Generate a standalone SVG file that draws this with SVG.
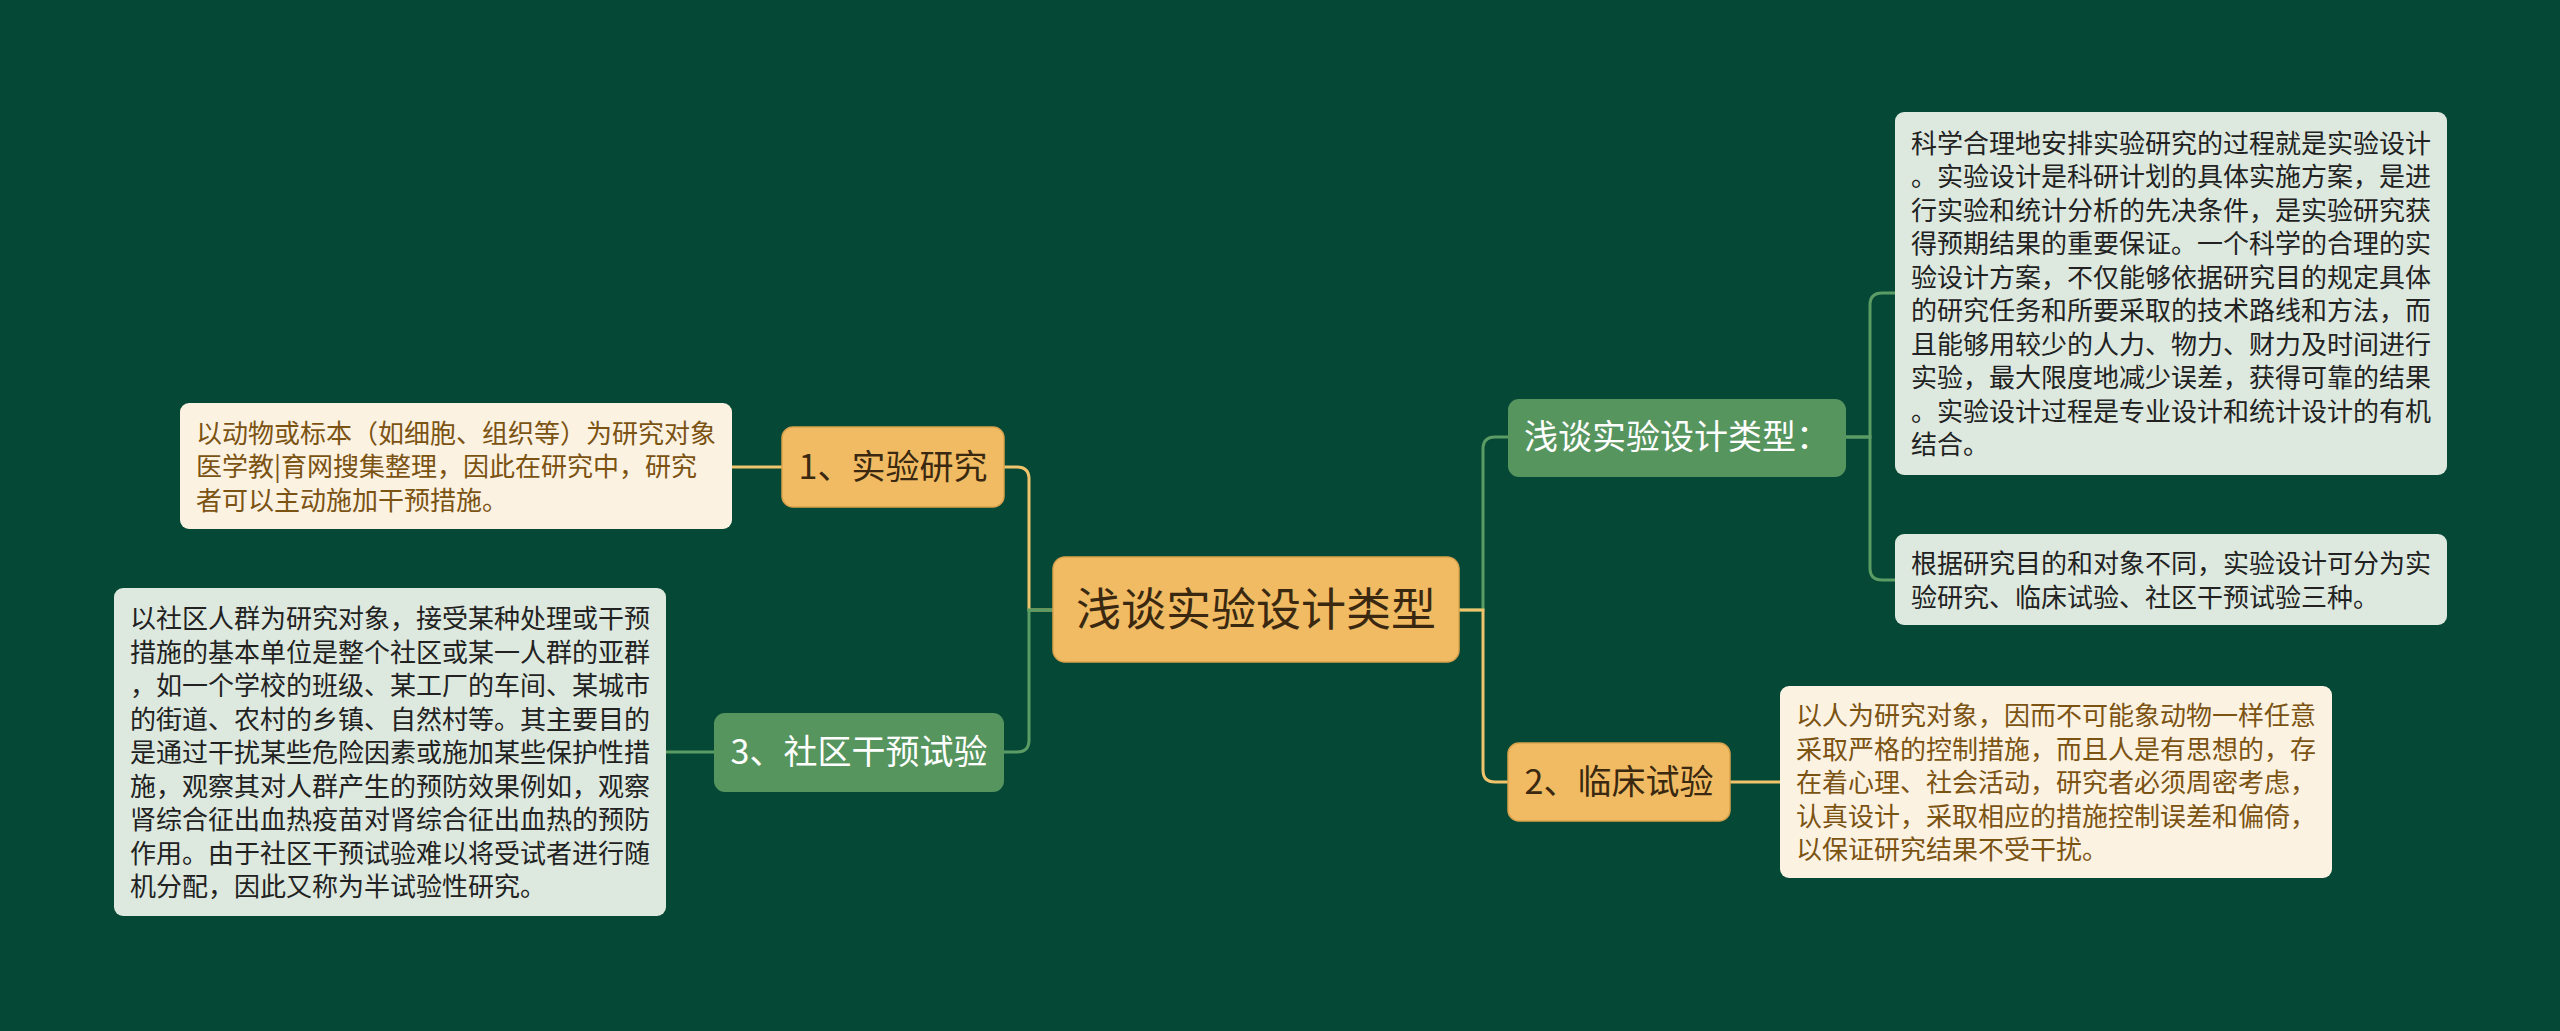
<svg xmlns="http://www.w3.org/2000/svg" width="2560" height="1031" viewBox="0 0 2560 1031">
<style>
text{font-family:"Noto Sans CJK SC","Noto Sans",sans-serif;}
.gold{fill:#f0bb63;stroke:#d9a24c;stroke-width:1.5;}
.gnode{fill:#57955f;}
.gbox{fill:#dde9df;}
.cbox{fill:#fcf2e2;}
.lg{fill:none;stroke:#f0c46c;stroke-width:3;}
.lgr{fill:none;stroke:#5b9c64;stroke-width:3;}
.t-root{font-size:45px;fill:#3a2910;text-anchor:middle;}
.t-gold{font-size:34px;fill:#3a2910;text-anchor:middle;}
.t-green{font-size:34px;fill:#ffffff;text-anchor:middle;}
.t-gb{font-size:26px;fill:#222222;}
.t-cb{font-size:26px;fill:#7b5312;}
</style>
<rect width="2560" height="1031" fill="#064836"/>
<g id="connectors">
<path class="lg" d="M1053,610 H1029 V479 Q1029,467 1017,467 H1004"/>
<path class="lgr" d="M1053,610 H1029 V740 Q1029,752 1017,752 H1004"/>
<path class="lg" d="M782,467 H732"/>
<path class="lgr" d="M714,752 H666"/>
<path class="lgr" d="M1459,610 H1483 V449 Q1483,437 1495,437 H1508"/>
<path class="lg" d="M1459,610 H1483 V770 Q1483,782 1495,782 H1508"/>
<path class="lgr" d="M1846,437 H1870 V305 Q1870,293 1882,293 H1895"/>
<path class="lgr" d="M1846,437 H1870 V568 Q1870,580 1882,580 H1895"/>
<path class="lg" d="M1730,782 H1780"/>
</g>
<g id="root">
<rect class="gold" x="1053" y="557" width="406" height="105" rx="12"/>
<text class="t-root" x="1256" y="626">浅谈实验设计类型</text>
</g>
<g id="node1">
<rect class="gold" x="782" y="427" width="222" height="80" rx="11"/>
<text class="t-gold" x="893" y="479">1、实验研究</text>
</g>
<g id="node1-detail">
<rect class="cbox" x="180" y="403" width="552" height="126" rx="9"/>
<text class="t-cb" x="196" y="442.5">以动物或标本（如细胞、组织等）为研究对象</text>
<text class="t-cb" x="196" y="476">医学教|育网搜集整理，因此在研究中，研究</text>
<text class="t-cb" x="196" y="509.5">者可以主动施加干预措施。</text>
</g>
<g id="node3">
<rect class="gnode" x="714" y="713" width="290" height="79" rx="11"/>
<text class="t-green" x="859" y="764">3、社区干预试验</text>
</g>
<g id="node3-detail">
<rect class="gbox" x="114" y="588" width="552" height="328" rx="9"/>
<text class="t-gb" x="130" y="628">以社区人群为研究对象，接受某种处理或干预</text>
<text class="t-gb" x="130" y="661.5">措施的基本单位是整个社区或某一人群的亚群</text>
<text class="t-gb" x="130" y="695">，如一个学校的班级、某工厂的车间、某城市</text>
<text class="t-gb" x="130" y="728.5">的街道、农村的乡镇、自然村等。其主要目的</text>
<text class="t-gb" x="130" y="762">是通过干扰某些危险因素或施加某些保护性措</text>
<text class="t-gb" x="130" y="795.5">施，观察其对人群产生的预防效果例如，观察</text>
<text class="t-gb" x="130" y="829">肾综合征出血热疫苗对肾综合征出血热的预防</text>
<text class="t-gb" x="130" y="862.5">作用。由于社区干预试验难以将受试者进行随</text>
<text class="t-gb" x="130" y="896">机分配，因此又称为半试验性研究。</text>
</g>
<g id="node-types">
<rect class="gnode" x="1508" y="399" width="338" height="78" rx="11"/>
<text class="t-green" x="1677" y="449">浅谈实验设计类型：</text>
</g>
<g id="types-detail1">
<rect class="gbox" x="1895" y="112" width="552" height="363" rx="9"/>
<text class="t-gb" x="1911" y="152.75">科学合理地安排实验研究的过程就是实验设计</text>
<text class="t-gb" x="1911" y="186.25">。实验设计是科研计划的具体实施方案，是进</text>
<text class="t-gb" x="1911" y="219.75">行实验和统计分析的先决条件，是实验研究获</text>
<text class="t-gb" x="1911" y="253.25">得预期结果的重要保证。一个科学的合理的实</text>
<text class="t-gb" x="1911" y="286.75">验设计方案，不仅能够依据研究目的规定具体</text>
<text class="t-gb" x="1911" y="320.25">的研究任务和所要采取的技术路线和方法，而</text>
<text class="t-gb" x="1911" y="353.75">且能够用较少的人力、物力、财力及时间进行</text>
<text class="t-gb" x="1911" y="387.25">实验，最大限度地减少误差，获得可靠的结果</text>
<text class="t-gb" x="1911" y="420.75">。实验设计过程是专业设计和统计设计的有机</text>
<text class="t-gb" x="1911" y="454.25">结合。</text>
</g>
<g id="types-detail2">
<rect class="gbox" x="1895" y="534" width="552" height="91" rx="9"/>
<text class="t-gb" x="1911" y="573">根据研究目的和对象不同，实验设计可分为实</text>
<text class="t-gb" x="1911" y="606.5">验研究、临床试验、社区干预试验三种。</text>
</g>
<g id="node2">
<rect class="gold" x="1508" y="743" width="222" height="78" rx="11"/>
<text class="t-gold" x="1619" y="794">2、临床试验</text>
</g>
<g id="node2-detail">
<rect class="cbox" x="1780" y="686" width="552" height="192" rx="9"/>
<text class="t-cb" x="1796" y="725">以人为研究对象，因而不可能象动物一样任意</text>
<text class="t-cb" x="1796" y="758.5">采取严格的控制措施，而且人是有思想的，存</text>
<text class="t-cb" x="1796" y="792">在着心理、社会活动，研究者必须周密考虑，</text>
<text class="t-cb" x="1796" y="825.5">认真设计，采取相应的措施控制误差和偏倚，</text>
<text class="t-cb" x="1796" y="859">以保证研究结果不受干扰。</text>
</g>
</svg>
